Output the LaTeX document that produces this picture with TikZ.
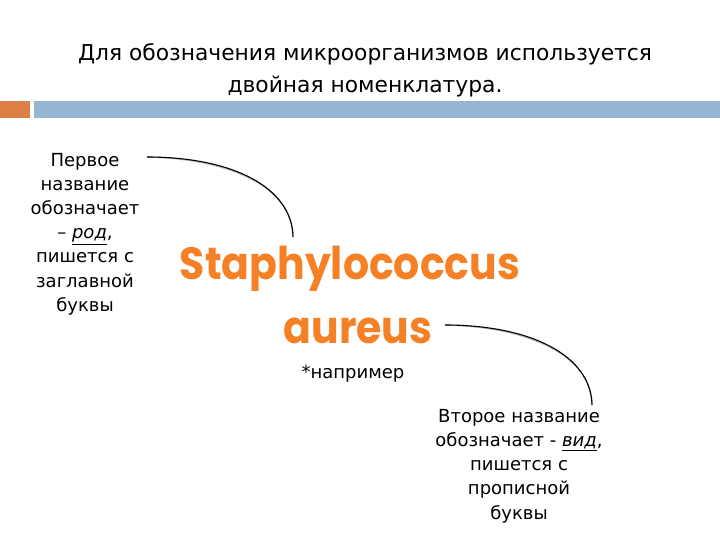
\documentclass[tikz,border=0pt]{standalone}
\usepackage{fontspec}
\setmainfont{DejaVu Sans}
\newfontfamily\namefont{Poppins}
\definecolor{barorange}{HTML}{DD8047}
\definecolor{barblue}{HTML}{94B6D2}
\definecolor{nameorange}{HTML}{F58025}
\tikzset{
  side/.style={align=center, font=\fontsize{18}{24.2}\selectfont},
  latin/.style={text=nameorange, font=\namefont\bfseries\fontsize{41}{42}\selectfont},
  curve/.style={black, line width=1.1pt},
  shade/.style={gray!55, line width=1.4pt, shift={(1.2,1.8)}}
}
\newcommand{\tallname}[1]{\scalebox{1}[1.1]{#1}}
\begin{document}
\begin{tikzpicture}[x=1pt,y=-1pt]
\useasboundingbox (0,0) rectangle (720,540);
\node[align=center, font=\fontsize{21.8}{32}\selectfont] (T) at (365,70) {Для обозначения микроорганизмов используется\\двойная номенклатура.};
\fill[barorange] (0,101) rectangle (30,118);
\fill[barblue] (34,101) rectangle (720,118);
\node[side] (G) at (85,234) {Первое\\название\\обозначает\\– \underline{\textit{род}},\\пишется с\\заглавной\\буквы};
\node[side] (S) at (519,466) {Второе название\\обозначает - \underline{\textit{вид}},\\пишется с\\прописной\\буквы};
\node[latin, anchor=base] (N1) at (350,279) {\tallname{Staphylococcus}};
\node[latin, anchor=base] (N2) at (358,343) {\tallname{aureus}};
\node[anchor=base, font=\fontsize{18}{20}\selectfont] (E) at (353,378) {*например};
% connectors
\coordinate (P) at (147,157);
\coordinate (Q) at (293,237);
\coordinate (R) at (445,325);
\coordinate (U) at (592,405);
\draw[shade] (P) .. controls (232,157) and (292,187) .. (Q);
\draw[curve] (P) .. controls (232,157) and (292,187) .. (Q);
\draw[shade] (R) .. controls (530,325) and (591,355) .. (U);
\draw[curve] (R) .. controls (530,325) and (591,355) .. (U);
\end{tikzpicture}
\end{document}
